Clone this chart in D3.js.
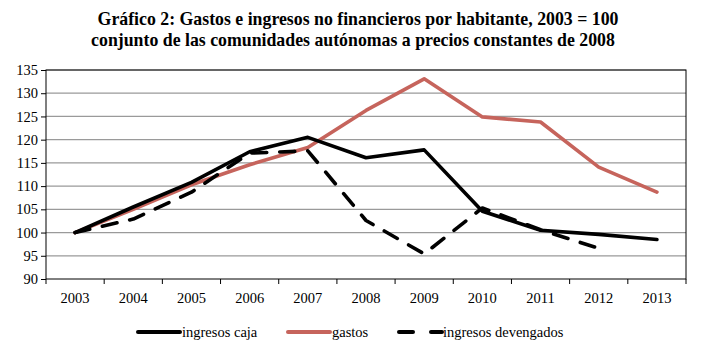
<!DOCTYPE html>
<html>
<head>
<meta charset="utf-8">
<script src="https://cdn.jsdelivr.net/npm/d3@7"></script>
<style>
  body { margin: 0; background: #fff; }
  text { font-family: "Liberation Serif", "DejaVu Serif", serif; }
</style>
</head>
<body>
<div class="chart"></div>
<script>
let years = ['2003', '2004', '2005', '2006', '2007', '2008', '2009', '2010', '2011', '2012', '2013'];
let ingresosCaja = [100, 105.5, 110.8, 117.4, 120.5, 116.1, 117.8, 104.6, 100.5, 99.6, 98.5];
let gastos = [100, 105, 110.3, 114.6, 118.3, 126.3, 133.1, 124.9, 123.8, 114.1, 108.7];
let ingresosDevengados = [100, 102.9, 108.7, 117.1, 117.6, 102.6, 95.4, 105.3, 100.6, 96.6];
let yTicks = [90, 95, 100, 105, 110, 115, 120, 125, 130, 135];

const _width = 705, _height = 352;
let margin = {left: 46, right: 19, top: 70, bottom: 73};

let svg = d3.select('.chart')
    .append('svg')
    .attr('width', _width)
    .attr('height', _height);

// title
let title = svg.append('g')
    .attr('text-anchor', 'middle')
    .style('font-weight', 'bold')
    .style('font-size', '17.8px');
title.append('text').attr('x', 358).attr('y', 25)
    .text('Gráfico 2: Gastos e ingresos no financieros por habitante, 2003 = 100');
title.append('text').attr('x', 353).attr('y', 46)
    .text('conjunto de las comunidades autónomas a precios constantes de 2008');

let x = d3.scaleBand()
    .domain(years)
    .range([margin.left, _width - margin.right]);
let y = d3.scaleLinear()
    .domain([90, 135])
    .range([_height - margin.bottom, margin.top]);

// grid
svg.append('g')
    .selectAll('line')
    .data(yTicks.slice(1))
    .enter().append('line')
    .attr('x1', margin.left)
    .attr('x2', _width - margin.right)
    .attr('y1', d => y(d))
    .attr('y2', d => y(d))
    .attr('stroke', '#9a9a9a')
    .attr('stroke-width', 1.2);

// plot border
svg.append('rect')
    .attr('x', margin.left)
    .attr('y', y(135))
    .attr('width', _width - margin.right - margin.left)
    .attr('height', y(90) - y(135))
    .attr('fill', 'none')
    .attr('stroke', '#000')
    .attr('stroke-width', 1);

// y axis
let yAxis = svg.append('g')
    .attr('transform', `translate(${margin.left},0)`)
    .call(d3.axisLeft(y).tickValues(yTicks).tickSize(5).tickPadding(3))
    .attr('font-family', '"Liberation Serif", serif')
    .attr('font-size', 14.5);
yAxis.select('.domain').remove();
yAxis.selectAll('text').attr('fill', '#000');

// x axis: ticks at band edges
let xAxis = svg.append('g')
    .attr('transform', `translate(0,${y(90)})`);
xAxis.selectAll('line')
    .data(years.concat(['end']))
    .enter().append('line')
    .attr('x1', (d, i) => margin.left + i * x.step())
    .attr('x2', (d, i) => margin.left + i * x.step())
    .attr('y1', 0)
    .attr('y2', 5)
    .attr('stroke', '#000');
xAxis.selectAll('text')
    .data(years)
    .enter().append('text')
    .attr('x', d => x(d) + x.bandwidth() / 2)
    .attr('y', 24)
    .attr('text-anchor', 'middle')
    .style('font-size', '14.5px')
    .text(d => d);

let line = d3.line()
    .x((d, i) => x(years[i]) + x.bandwidth() / 2)
    .y(d => y(d));

let series = [
    {name: 'ingresos caja', values: ingresosCaja, color: '#000', dash: null},
    {name: 'gastos', values: gastos, color: '#c6645c', dash: null},
    {name: 'ingresos devengados', values: ingresosDevengados, color: '#000', dash: '15,13'}
];

// draw order: gastos, caja, devengados
[series[1], series[0], series[2]].forEach(s => {
    svg.append('path')
        .datum(s.values)
        .attr('d', line)
        .attr('fill', 'none')
        .attr('stroke', s.color)
        .attr('stroke-width', 3.6)
        .attr('stroke-linejoin', 'round')
        .attr('stroke-linecap', 'round')
        .attr('stroke-dasharray', s.dash);
});

// legend
let legendPos = [137, 287, 398];
let legend = svg.append('g');
series.forEach((s, i) => {
    let g = legend.append('g').attr('transform', `translate(${legendPos[i]},332)`);
    if (s.dash) {
        g.append('line').attr('x1', 1).attr('x2', 15).attr('y1', 0).attr('y2', 0)
            .attr('stroke', s.color).attr('stroke-width', 4).attr('stroke-linecap', 'round');
        g.append('line').attr('x1', 33).attr('x2', 44).attr('y1', 0).attr('y2', 0)
            .attr('stroke', s.color).attr('stroke-width', 4).attr('stroke-linecap', 'round');
    } else {
        g.append('line').attr('x1', 1).attr('x2', 43).attr('y1', 0).attr('y2', 0)
            .attr('stroke', s.color).attr('stroke-width', 4).attr('stroke-linecap', 'round');
    }
    g.append('text').attr('x', 45).attr('y', 5)
        .style('font-size', '14.5px')
        .text(s.name);
});
</script>
</body>
</html>
